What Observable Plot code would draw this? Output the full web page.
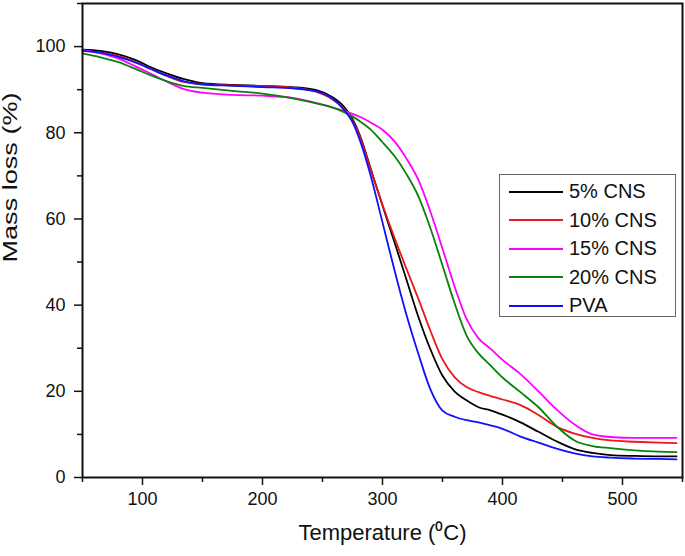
<!DOCTYPE html>
<html><head><meta charset="utf-8">
<script src="https://cdn.jsdelivr.net/npm/d3@7"></script>
<script src="https://cdn.jsdelivr.net/npm/@observablehq/plot@0.6"></script>
<style>
body{margin:0;background:#fff;font-family:Arial,"Liberation Sans",sans-serif;}
#wrap{position:relative;width:685px;height:556px;}
#legend{position:absolute;left:499px;top:174px;width:177px;height:143px;border:1px solid #666;box-sizing:border-box;background:#fff;}
.row{position:absolute;left:9px;height:28px;display:flex;align-items:center;font-size:20px;color:#111;white-space:nowrap;}
.row svg{margin-right:6px;display:block}
</style></head><body><div id="wrap"></div>
<script>
const temps = [50,65,80,95,107,120,134,150,175,200,225,245,258,268,275,282,290,300,310,320,330,340,350,360,370,380,390,400,415,430,445,460,475,490,510,530,545];
const cns5  = [99.3,99.0,98.2,96.8,95.2,93.8,92.5,91.5,91.1,90.9,90.6,89.9,88.3,86.0,83.2,78.8,71.8,63.1,54.6,45.9,37.2,29.7,23.6,20.0,17.9,16.3,15.6,14.6,12.8,10.6,8.4,6.6,5.7,5.2,5.0,4.9,4.9];
const cns10 = [99.1,98.6,97.8,96.3,94.8,93.2,91.8,91.3,91.0,90.8,90.5,89.5,87.8,85.5,82.8,78.5,71.5,63.3,55.6,48.4,41.4,34.0,27.4,23.3,21.0,19.8,18.9,18.1,16.8,14.5,11.8,10.2,9.2,8.6,8.3,8.1,8.0];
const cns15 = [99.2,98.4,97.2,95.3,93.7,91.9,90.2,89.3,88.8,88.6,88.1,86.9,85.9,85.1,84.4,83.6,82.4,80.7,78.0,74.0,69.0,61.6,53.1,44.4,36.8,32.3,29.9,27.3,24.0,20.0,15.8,12.3,10.0,9.4,9.2,9.2,9.2];
const cns20 = [98.4,97.5,96.4,94.7,93.3,92.0,90.9,90.4,89.7,89.1,88.0,86.8,85.9,84.8,83.8,82.5,80.8,77.8,74.6,70.4,65.2,57.8,49.2,40.5,33.0,28.8,26.0,23.2,19.8,16.3,11.9,8.6,7.3,6.8,6.3,6.0,5.9];
const pva   = [99.0,98.6,97.6,96.2,94.8,93.3,92.0,91.2,90.9,90.6,90.3,89.6,88.0,85.3,82.5,77.6,70.2,59.2,48.1,37.7,28.6,20.4,15.5,14.1,13.3,12.8,12.1,11.3,9.5,8.1,6.7,5.6,4.9,4.6,4.4,4.3,4.2];
const seriesNames = ["5% CNS","10% CNS","15% CNS","20% CNS","PVA"];
const seriesColors = ["#000000","#e8181c","#ff00ff","#0a820a","#1010ff"];
const xMajor = [100,200,300,400,500];
const xMinor = [50,150,250,350,450,550];
const yMajor = [0,20,40,60,80,100];
const yMinor = [10,30,50,70,90,110];
const xTitle = "Temperature (\u2070C)";
const yTitle = "Mass loss (%)";

const seriesValues = [cns5,cns10,cns15,cns20,pva];
const rows = [];
seriesValues.forEach((arr,k)=>arr.forEach((v,i)=>rows.push({t:temps[i], v, s:seriesNames[k]})));

const font = "Arial, 'Liberation Sans', sans-serif";
const chart = Plot.plot({
  width:685, height:556,
  marginLeft:82, marginRight:3, marginTop:3, marginBottom:79,
  style:{fontFamily:font, background:"#fff", color:"#111"},
  x:{domain:[50,550]},
  y:{domain:[0,110]},
  color:{domain:seriesNames, range:seriesColors},
  marks:[
    Plot.axisX(xMinor,{tickSize:5, text:null, label:null, strokeWidth:1.5, stroke:"#111"}),
    Plot.axisX(xMajor,{tickSize:8, tickPadding:7, fontSize:18, strokeWidth:1.5, stroke:"#111", label:null}),
    Plot.axisY(yMinor,{tickSize:5, text:null, label:null, strokeWidth:1.5, stroke:"#111"}),
    Plot.axisY(yMajor,{tickSize:8, tickPadding:9, fontSize:18, strokeWidth:1.5, stroke:"#111", label:null}),
    Plot.line(rows,{x:"t", y:"v", z:"s", stroke:"s", strokeWidth:1.8, curve:"monotone-x"}),
    Plot.frame({stroke:"#111", strokeWidth:2}),
    Plot.text([xTitle],{frameAnchor:"bottom", dy:62, fontSize:22, text:d=>d, fill:"#111"}),
    Plot.text([yTitle],{frameAnchor:"left", dx:-72, dy:22, rotate:-90, fontSize:20, text:d=>d, fill:"#111"})
  ]
});
d3.select(chart).selectAll("text").filter(function(){return this.textContent===yTitle;})
  .attr("textLength",170).attr("lengthAdjust","spacingAndGlyphs");
const wrap = document.getElementById("wrap");
wrap.appendChild(chart);

const legend = document.createElement("div");
legend.id = "legend";
seriesNames.forEach((n,i)=>{
  const r = document.createElement("div");
  r.className = "row";
  r.style.top = (2.5 + i*28.5) + "px";
  r.innerHTML = `<svg width="54" height="4"><line x1="0" y1="2" x2="54" y2="2" stroke="${seriesColors[i]}" stroke-width="2"/></svg><span>${n}</span>`;
  legend.appendChild(r);
});
wrap.appendChild(legend);
</script>
</body></html>
